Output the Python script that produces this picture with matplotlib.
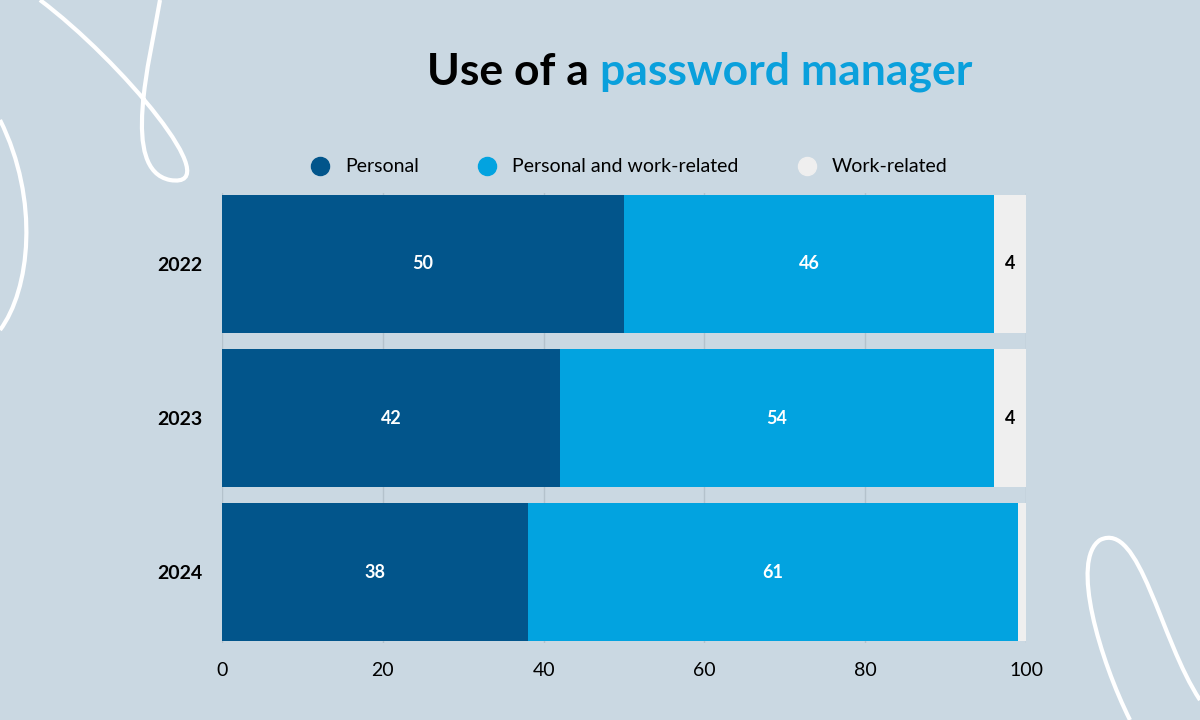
import matplotlib.pyplot as plt
import numpy as np
from matplotlib.path import Path
from matplotlib.patches import PathPatch

years = ["2022", "2023", "2024"]
personal = [50, 42, 38]
both = [46, 54, 61]
work = [4, 4, 1]
series_names = ["Personal", "Personal and work-related", "Work-related"]
colors = ["#02558b", "#02a3e0", "#efefef"]
bg = "#cad8e2"

fig = plt.figure(figsize=(12, 7.2), dpi=100, facecolor=bg)

# decorative white curves
deco = fig.add_axes([0, 0, 1, 1], zorder=0)
deco.set_xlim(0, 1200); deco.set_ylim(720, 0); deco.axis("off")
curves = [
    [(40, 0), (120, 60), (230, 190), (170, 180), (120, 170), (150, 60), (160, 0)],
    [(0, 120), (40, 200), (30, 290), (0, 330)],
    [(1200, 700), (1160, 640), (1140, 520), (1100, 540), (1070, 560), (1100, 660), (1130, 720)],
]
for pts in curves:
    codes = [Path.MOVETO] + [Path.CURVE4] * (len(pts) - 1) if len(pts) in (4, 7) else None
    deco.add_patch(PathPatch(Path(pts, codes), fill=False, ec="white", lw=3))

ax = fig.add_axes([222 / 1200, 1 - 643 / 720, 804 / 1200, 450 / 720], zorder=1)
ax.set_facecolor(bg)
y = np.arange(len(years))
left = np.zeros(len(years))
for vals, name, c in zip([personal, both, work], series_names, colors):
    bars = ax.barh(y, vals, left=left, height=0.9, color=c, label=name, zorder=2)
    for b, v, l in zip(bars, vals, left):
        if v >= 3:
            tc = "black" if c == colors[2] else "white"
            ax.text(l + v / 2, b.get_y() + b.get_height() / 2, str(v), ha="center",
                    va="center", color=tc, fontsize=13, fontweight="bold", family="Lato")
    left = left + np.array(vals)

ax.set_xlim(0, 100)
ax.set_ylim(2.46, -0.46)
ax.set_yticks(y, years)
ax.set_xticks([0, 20, 40, 60, 80, 100])
ax.grid(axis="x", color="#b4c2cc", lw=1, zorder=0)
for s in ax.spines.values():
    s.set_visible(False)
ax.tick_params(length=0, labelsize=14, pad=14)
for t in ax.get_yticklabels():
    t.set_fontweight("bold"); t.set_family("Lato")
for t in ax.get_xticklabels():
    t.set_family("Lato")

fig.text(0.5, 0.9, "Use of a ", ha="right", va="center", fontsize=32,
         fontweight="bold", family="Lato", color="black")
fig.text(0.5, 0.9, "password manager", ha="left", va="center", fontsize=32,
         fontweight="bold", family="Lato", color="#0aa0dc")
fig.text(0.23, 0.9, "", fontsize=1)

leg = ax.legend(loc="lower center", bbox_to_anchor=(0.5, 1.0), ncol=3, frameon=False,
                handlelength=0.8, handleheight=0.8, columnspacing=3,
                prop={"family": "Lato", "size": 14})
for h in leg.legend_handles:
    h.set_width(14); h.set_height(14)
from matplotlib.lines import Line2D
handles = [Line2D([], [], marker="o", ls="", ms=13, color=c) for c in colors]
ax.legend(handles, series_names, loc="lower center", bbox_to_anchor=(0.5, 1.0), ncol=3,
          frameon=False, handletextpad=0.3, columnspacing=2.5,
          prop={"family": "Lato", "size": 14})

fig.savefig("out.png", facecolor=bg)
